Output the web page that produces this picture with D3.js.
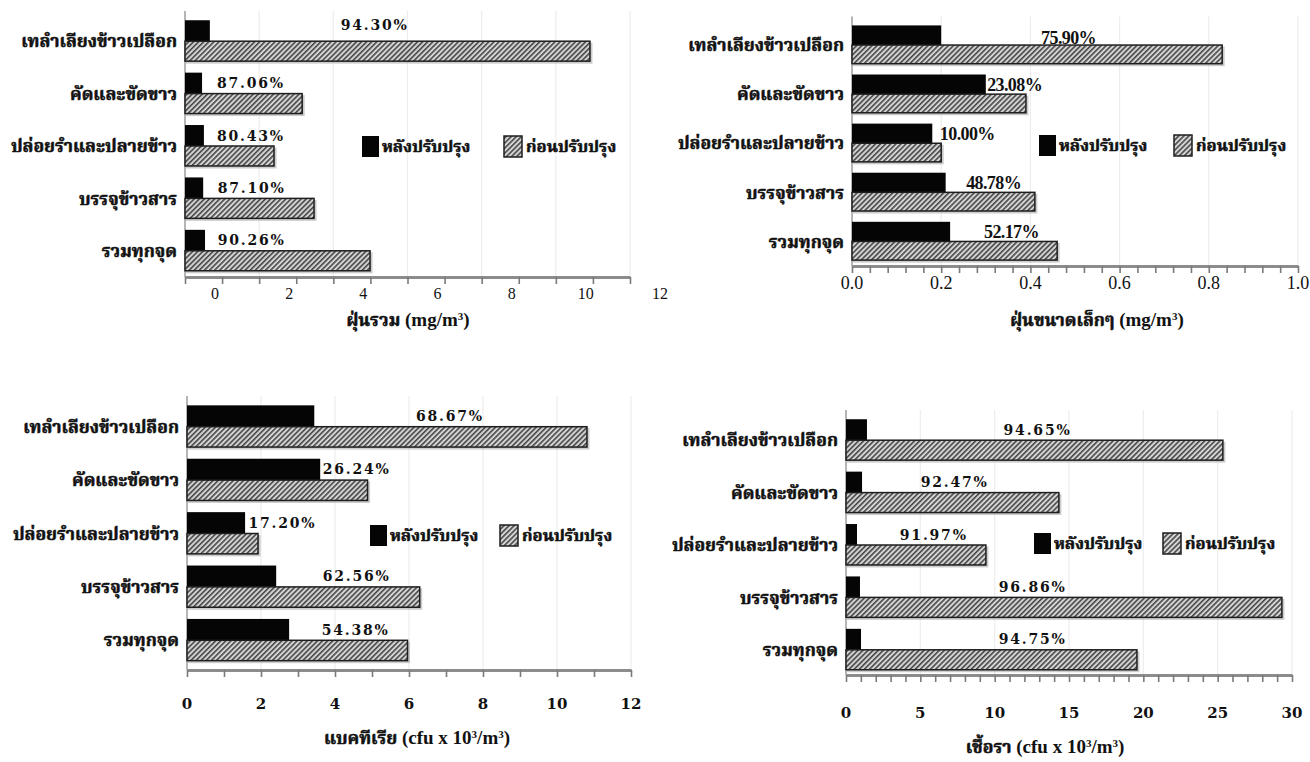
<!DOCTYPE html>
<html>
<head>
<meta charset="utf-8">
<script src="https://cdn.jsdelivr.net/npm/d3@7"></script>
<style>
  body { margin: 0; background: #fff; }
  .thaiText { stroke: #111; stroke-width: 0.55px; paint-order: stroke; }
</style>
</head>
<body>
<svg id="chart" width="1310" height="762"></svg>
<script>
// categories, top to bottom
const categories = ["เทลำเลียงข้าวเปลือก", "คัดและขัดขาว", "ปล่อยรำและปลายข้าว", "บรรจุข้าวสาร", "รวมทุกจุด"];
const seriesNames = ["หลังปรับปรุง", "ก่อนปรับปรุง"];

// total dust (mg/m3)
const dustAfter  = [0.67, 0.46, 0.51, 0.49, 0.54];
const dustBefore = [10.92, 3.16, 2.40, 3.48, 4.99];
const dustPct    = ["94.30%", "87.06%", "80.43%", "87.10%", "90.26%"];
const dustTicks  = [0, 2, 4, 6, 8, 10, 12];

// fine dust (mg/m3)
const fineAfter  = [0.20, 0.30, 0.18, 0.21, 0.22];
const fineBefore = [0.83, 0.39, 0.20, 0.41, 0.46];
const finePct    = ["75.90%", "23.08%", "10.00%", "48.78%", "52.17%"];
const fineTicks  = [0, 0.2, 0.4, 0.6, 0.8, 1.0];

// bacteria (cfu x 10^3/m3)
const bactAfter  = [3.44, 3.60, 1.57, 2.41, 2.76];
const bactBefore = [10.81, 4.88, 1.92, 6.29, 5.96];
const bactPct    = ["68.67%", "26.24%", "17.20%", "62.56%", "54.38%"];
const bactTicks  = [0, 2, 4, 6, 8, 10, 12];

// fungi (cfu x 10^3/m3)
const fungAfter  = [1.41, 1.08, 0.74, 0.94, 1.01];
const fungBefore = [25.35, 14.32, 9.41, 29.32, 19.57];
const fungPct    = ["94.65%", "92.47%", "91.97%", "96.86%", "94.75%"];
const fungTicks  = [0, 5, 10, 15, 20, 25, 30];

// pick a looped Thai face if one is installed, otherwise whatever falls back
const cv = document.createElement("canvas").getContext("2d");
function textW(font, s) { cv.font = font; return cv.measureText(s).width; }
const thaiCandidates = ["Laksaman", "Norasi", "Kinnari", "TH Sarabun New", "Noto Serif Thai",
  "Noto Sans Thai Looped", "Loma", "Garuda", "Noto Sans Thai"];
let thaiFont = "sans-serif";
for (const f of thaiCandidates) {
  const probe = "เทลำเลียงข้าวเปลือก";
  if (textW("bold 40px '" + f + "', monospace", probe) !== textW("bold 40px monospace", probe)) {
    thaiFont = "'" + f + "'";
    break;
  }
}
const thaiFamily = thaiFont + ", 'Noto Sans Thai', sans-serif";
// scale Thai text so the longest category is about 156px wide
const thaiScale = 156 / textW("bold 19px " + thaiFamily, categories[0]);

const svg = d3.select("#chart");

// hatch for the "before" bars
const defs = svg.append("defs");
const pat = defs.append("pattern")
  .attr("id", "hatch")
  .attr("width", 3.6).attr("height", 3.6)
  .attr("patternUnits", "userSpaceOnUse")
  .attr("patternTransform", "rotate(45)");
pat.append("rect").attr("width", 3.6).attr("height", 3.6).attr("fill", "#d4d4d4");
pat.append("line").attr("x1", 0.8).attr("y1", 0).attr("x2", 0.8).attr("y2", 3.6)
  .attr("stroke", "#474747").attr("stroke-width", 1.6);

const wideFont = "'DejaVu Serif', serif";
const timesFont = "'Liberation Serif', 'Times New Roman', serif";

const panels = [
  {
    after: dustAfter, before: dustBefore, pct: dustPct, ticks: dustTicks,
    domain: [0, 12], x0: 185, x1: 630, top: 15, bottom: 277, axisY: 277,
    minor: d3.range(0, 12.001, 1), tickShift: 30, tickY: 299,
    tickFont: timesFont, tickSize: 16, tickWeight: "normal", tickFmt: d3.format("d"),
    pctFont: wideFont, pctSize: 14, pctSpacing: 1.8, pctX: [4.2, 0.86, 0.86, 0.88, 0.88], pctDy: [-6, 0, 0, 0, 0],
    legend: { x: 362, y: 146, x2: 504 },
    title: [["ฝุ่นรวม", "th"], [" (mg/m", "lat"], ["3", "sup"], [")", "lat"]], titleX: 408, titleY: 326
  },
  {
    after: fineAfter, before: fineBefore, pct: finePct, ticks: fineTicks,
    domain: [0, 1], x0: 852, x1: 1298, top: 20.5, bottom: 266, axisY: 266,
    minor: d3.range(0, 1.0001, 0.04), tickShift: 0, tickY: 289,
    tickFont: timesFont, tickSize: 18, tickWeight: "normal", tickFmt: d3.format(".1f"),
    pctFont: timesFont, pctSize: 18, pctSpacing: -0.6, pctX: [0.424, 0.303, 0.197, 0.256, 0.296], pctDy: [2, 0, 0, 0, 0],
    legend: { x: 1039, y: 145, x2: 1174 },
    title: [["ฝุ่นขนาดเล็กๆ", "th"], [" (mg/m", "lat"], ["3", "sup"], [")", "lat"]], titleX: 1097, titleY: 326
  },
  {
    after: bactAfter, before: bactBefore, pct: bactPct, ticks: bactTicks,
    domain: [0, 12], x0: 187, x1: 631, top: 400, bottom: 667, axisY: 670,
    minor: d3.range(0, 12.001, 1), tickShift: 0, tickY: 709,
    tickFont: wideFont, tickSize: 15, tickWeight: "bold", tickFmt: d3.format("d"),
    pctFont: wideFont, pctSize: 14, pctSpacing: 1.8, pctX: [6.19, 3.67, 1.66, 3.67, 3.64], pctDy: [0, 0, 0, 0, 0],
    legend: { x: 370, y: 535, x2: 500 },
    title: [["แบคทีเรีย", "th"], [" (cfu x 10", "lat"], ["3", "sup"], ["/m", "lat"], ["3", "sup"], [")", "lat"]],
    titleX: 417, titleY: 744
  },
  {
    after: fungAfter, before: fungBefore, pct: fungPct, ticks: fungTicks,
    domain: [0, 30], x0: 846, x1: 1292, top: 414, bottom: 676, axisY: 675,
    minor: d3.range(0, 30.001, 1), tickShift: 0, tickY: 718,
    tickFont: wideFont, tickSize: 15, tickWeight: "bold", tickFmt: d3.format("d"),
    pctFont: wideFont, pctSize: 14, pctSpacing: 1.8, pctX: [10.6, 5.03, 3.62, 10.27, 10.27], pctDy: [0, 0, 0, 0, 0],
    legend: { x: 1034, y: 543, x2: 1163 },
    title: [["เชื้อรา", "th"], [" (cfu x 10", "lat"], ["3", "sup"], ["/m", "lat"], ["3", "sup"], [")", "lat"]],
    titleX: 1045, titleY: 753
  }
];

panels.forEach(drawPanel);

function drawPanel(p) {
  const x = d3.scaleLinear().domain(p.domain).range([p.x0, p.x1]);
  const y = d3.scaleBand().domain(categories).range([p.top, p.bottom])
    .paddingInner(0.2).paddingOuter(0.1);
  const h = y.bandwidth() / 2;
  const g = svg.append("g");

  const rows = categories.map((c, i) => ({
    c: c, after: p.after[i], before: p.before[i], pct: p.pct[i], lx: p.pctX[i], dy: p.pctDy[i]
  }));

  // faint grid
  g.selectAll(".grid").data(p.ticks.slice(1)).join("line")
    .attr("x1", d => x(d)).attr("x2", d => x(d))
    .attr("y1", p.top - 4).attr("y2", p.axisY)
    .attr("stroke", "#ededed").attr("stroke-width", 1.2);

  // left axis line
  g.append("line")
    .attr("x1", x(0)).attr("x2", x(0))
    .attr("y1", p.top - 4).attr("y2", p.axisY)
    .attr("stroke", "#b5b5b5").attr("stroke-width", 2);

  // bottom axis (minor ticks, no labels)
  const ax = g.append("g")
    .attr("transform", "translate(0," + p.axisY + ")")
    .call(d3.axisBottom(x).tickValues(p.minor).tickSize(7).tickSizeOuter(0).tickFormat(""));
  ax.select(".domain").attr("stroke", "#8c8c8c").attr("stroke-width", 3);
  ax.selectAll(".tick line").attr("stroke", "#7a7a7a").attr("stroke-width", 1.6);

  // tick labels
  g.selectAll(".tl").data(p.ticks).join("text")
    .attr("x", d => x(d) + p.tickShift)
    .attr("y", p.tickY)
    .attr("text-anchor", "middle")
    .style("font-family", p.tickFont)
    .style("font-size", p.tickSize + "px")
    .style("font-weight", p.tickWeight)
    .attr("fill", "#111")
    .text(d => p.tickFmt(d));

  // after bars (black)
  g.selectAll(".after").data(rows).join("rect")
    .attr("x", x(0))
    .attr("y", d => y(d.c))
    .attr("width", d => x(d.after) - x(0))
    .attr("height", h)
    .attr("fill", "#050505");

  // soft shadow under the hatched bars
  g.selectAll(".shadow").data(rows).join("rect")
    .attr("x", x(0) + 1)
    .attr("y", d => y(d.c) + h + 1.5)
    .attr("width", d => x(d.before) - x(0) + 1.5)
    .attr("height", h)
    .attr("fill", "#9a9a9a").attr("opacity", 0.5);

  // before bars (hatched)
  g.selectAll(".before").data(rows).join("rect")
    .attr("x", x(0))
    .attr("y", d => y(d.c) + h)
    .attr("width", d => x(d.before) - x(0))
    .attr("height", h - 1)
    .attr("fill", "url(#hatch)")
    .attr("stroke", "#1e1e1e").attr("stroke-width", 1.5);

  // category labels
  g.selectAll(".cat").data(rows).join("text")
    .attr("class", "thaiText")
    .attr("x", x(0) - 8)
    .attr("y", d => y(d.c) + h)
    .attr("dy", "0.35em")
    .attr("text-anchor", "end")
    .style("font-family", thaiFamily)
    .style("font-weight", "bold")
    .style("font-size", (19 * thaiScale) + "px")
    .attr("fill", "#111")
    .text(d => d.c);

  // reduction labels
  g.selectAll(".pct").data(rows).join("text")
    .attr("x", d => x(d.lx))
    .attr("y", d => y(d.c) + h / 2 + d.dy)
    .attr("dy", "0.36em")
    .style("font-family", p.pctFont)
    .style("font-size", p.pctSize + "px")
    .style("font-weight", "bold")
    .style("letter-spacing", p.pctSpacing + "px")
    .attr("fill", "#111")
    .text(d => d.pct);

  // legend
  const lg = g.append("g")
    .style("font-family", thaiFamily)
    .style("font-weight", "bold")
    .style("font-size", (18 * thaiScale) + "px");
  lg.append("rect").attr("x", p.legend.x).attr("y", p.legend.y - 10)
    .attr("width", 17).attr("height", 21).attr("fill", "#050505");
  lg.append("text").attr("class", "thaiText")
    .attr("x", p.legend.x + 20).attr("y", p.legend.y).attr("dy", "0.35em")
    .attr("fill", "#111").text(seriesNames[0]);
  lg.append("rect").attr("x", p.legend.x2).attr("y", p.legend.y - 10)
    .attr("width", 18).attr("height", 21).attr("fill", "url(#hatch)")
    .attr("stroke", "#1e1e1e").attr("stroke-width", 1.5);
  lg.append("text").attr("class", "thaiText")
    .attr("x", p.legend.x2 + 22).attr("y", p.legend.y).attr("dy", "0.35em")
    .attr("fill", "#111").text(seriesNames[1]);

  // axis title, Thai part + Latin part with superscripts
  const t = g.append("text")
    .attr("x", p.titleX).attr("y", p.titleY)
    .attr("text-anchor", "middle")
    .style("font-family", timesFont)
    .style("font-weight", "bold")
    .style("font-size", "19px")
    .attr("fill", "#111");
  p.title.forEach(([s, kind]) => {
    const sp = t.append("tspan").text(s);
    if (kind === "th") sp.attr("class", "thaiText").style("font-family", thaiFamily).style("font-size", (19 * thaiScale) + "px");
    if (kind === "sup") sp.attr("baseline-shift", "super").style("font-size", "11px");
  });
}
</script>
</body>
</html>
